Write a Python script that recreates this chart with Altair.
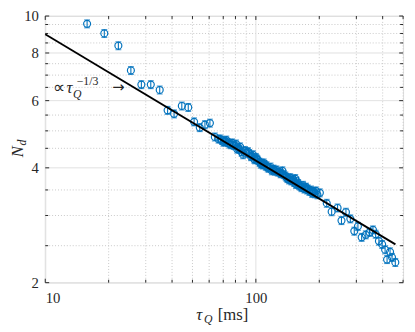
import altair as alt
import pandas as pd

# ---- data ----
tau_ms = [15.8, 19.07, 22.24, 25.5, 28.6, 31.7, 34.95, 38.1, 40.9, 44.5, 47.75, 50.9, 54.15, 57.3, 60.5, 63.85, 66.45,
          67.9, 70.1, 72.4, 74.8, 77.2, 79.8, 80.5, 82.4, 84.2, 87.0, 88.9, 91.8, 93.0, 94.8, 96.8, 98.0, 100, 102.2,
          105.5, 107.8, 109.0, 111.4, 113.8, 117.5, 119.0, 121.4, 125.3, 129.4, 131.0, 133.7, 138.1, 141.1, 145.7,
          147.0, 150.5, 153.8, 156.0, 158.8, 162.3, 167.6, 170.0, 173.1, 176.9, 182.7, 185.0, 188.7, 192.8,
          69.0, 71.5, 73.5, 76.0, 78.5, 81.5, 83.5, 85.5, 90.0, 95.5, 99.0, 101.0, 104.0, 106.5, 110.0, 112.5,
          115.5, 120.0, 123.0, 127.0, 132.0, 135.5, 139.5, 143.5, 149.0, 152.0, 155.0, 160.0, 164.5, 171.5,
          175.0, 179.5, 186.0, 190.5, 196.0,
          201.3, 217.0, 229.0, 244.3, 255.0, 267.7, 280.9, 293.3, 305.2, 317.9, 332.6, 346.5, 359.8, 370.4, 383.8,
          397.7, 410.8, 433.6, 419.7, 443.0, 459.3]
n_d = [9.54, 9.00, 8.36, 7.20, 6.61, 6.61, 6.40, 5.66, 5.54, 5.81, 5.76, 5.28, 5.10, 5.19, 5.24, 4.82, 4.76,
       4.76, 4.67, 4.73, 4.62, 4.65, 4.57, 4.62, 4.51, 4.54, 4.33, 4.44, 4.41, 4.36, 4.28, 4.33, 4.22, 4.26, 4.19,
       4.09, 4.07, 4.12, 4.04, 4.00, 4.02, 3.93, 3.97, 3.95, 3.90, 3.86, 3.93, 3.81, 3.75, 3.77,
       3.70, 3.73, 3.75, 3.69, 3.64, 3.58, 3.60, 3.52, 3.56, 3.52, 3.50, 3.43, 3.46, 3.48,
       4.72, 4.70, 4.66, 4.60, 4.58, 4.48, 4.47, 4.40, 4.38, 4.30, 4.20, 4.22, 4.14, 4.12, 4.08, 4.05,
       3.99, 3.96, 3.92, 3.90, 3.87, 3.84, 3.78, 3.72, 3.70, 3.66, 3.62, 3.60, 3.55, 3.55,
       3.50, 3.47, 3.47, 3.42, 3.40,
       3.44, 3.23, 3.07, 3.14, 2.91, 3.06, 2.94, 2.73, 2.81, 2.63, 2.67, 2.71, 2.75, 2.68, 2.57,
       2.52, 2.44, 2.41, 2.30, 2.33, 2.26]
REL_ERR = 0.024  # relative error bar half-height

fit_tau = [10, 460]
fit_nd = [8.96, 2.52]

x_major = [10, 100]
x_minor = [20, 30, 40, 50, 60, 70, 80, 90, 200, 300, 400, 500]
y_major = [2, 4, 6, 8, 10]
y_minor = [2.5, 3, 3.5, 4.5, 5, 5.5, 6.5, 7, 7.5, 8.5, 9, 9.5]

W, H = 365, 272
BLUE = "#0072BD"
INK = "#262626"
SERIF = "Liberation Serif"

pts = pd.DataFrame({"tau": tau_ms, "nd": n_d})
pts["lo"] = pts["nd"] * (1 - REL_ERR)
pts["hi"] = pts["nd"] * (1 + REL_ERR)
fit = pd.DataFrame({"tau": fit_tau, "nd": fit_nd})

xs = alt.Scale(type="log", domain=[10, 500], nice=False)
ys = alt.Scale(type="log", domain=[2, 10], nice=False)
x_axis = alt.Axis(values=x_major, format="d", domain=False, ticks=False, grid=False,
                  labelFont=SERIF, labelFontSize=15, labelColor=INK, labelPadding=8, title=None)
y_axis = alt.Axis(values=y_major, format="d", domain=False, ticks=False, grid=False,
                  labelFont=SERIF, labelFontSize=15, labelColor=INK, labelPadding=7, title=None)


def X(f):
    return alt.X(f, type="quantitative", scale=xs, axis=x_axis)


def Y(f):
    return alt.Y(f, type="quantitative", scale=ys, axis=y_axis)


def vals(v):
    return pd.DataFrame({"v": v})


layers = []
# grid
layers.append(alt.Chart(vals(x_minor)).mark_rule(color="#c8c8c8", strokeWidth=1, strokeDash=[1, 2]).encode(x=X("v")))
layers.append(alt.Chart(vals(y_minor)).mark_rule(color="#c8c8c8", strokeWidth=1, strokeDash=[1, 2]).encode(y=Y("v")))
layers.append(alt.Chart(vals(x_major)).mark_rule(color="#e0e0e0", strokeWidth=1).encode(x=X("v")))
layers.append(alt.Chart(vals(y_major)).mark_rule(color="#e0e0e0", strokeWidth=1).encode(y=Y("v")))

# inward ticks
for v, L in ((x_major, 4), (x_minor, 3)):
    layers.append(alt.Chart(vals(v)).mark_rule(color=INK, strokeWidth=1).encode(
        x=X("v"), y=alt.value(H - L), y2=alt.value(H)))
    layers.append(alt.Chart(vals(v)).mark_rule(color=INK, strokeWidth=1).encode(
        x=X("v"), y=alt.value(0), y2=alt.value(L)))
for v, L in ((y_major, 4), (y_minor, 3)):
    layers.append(alt.Chart(vals(v)).mark_rule(color=INK, strokeWidth=1).encode(
        y=Y("v"), x=alt.value(0), x2=alt.value(L)))
    layers.append(alt.Chart(vals(v)).mark_rule(color=INK, strokeWidth=1).encode(
        y=Y("v"), x=alt.value(W - L), x2=alt.value(W)))

# error bars + markers
base = alt.Chart(pts)
layers.append(base.mark_rule(color=BLUE, strokeWidth=1.1).encode(x=X("tau"), y=Y("lo"), y2="hi"))
layers.append(base.mark_tick(color=BLUE, orient="horizontal", size=6, thickness=1.1).encode(x=X("tau"), y=Y("lo")))
layers.append(base.mark_tick(color=BLUE, orient="horizontal", size=6, thickness=1.1).encode(x=X("tau"), y=Y("hi")))
layers.append(base.mark_point(shape="circle", filled=False, size=50, color=BLUE, strokeWidth=1.2, opacity=1).encode(
    x=X("tau"), y=Y("nd")))

# fit line
layers.append(alt.Chart(fit).mark_line(color="black", strokeWidth=1.8).encode(x=X("tau"), y=Y("nd")))


# annotation  ∝ τ_Q^{-1/3} →
def dtext(txt, xv, yv, fs, st="normal", font=SERIF):
    return alt.Chart(pd.DataFrame({"x": [xv], "y": [yv], "t": [txt]})).mark_text(
        align="left", baseline="alphabetic", font=font, fontSize=fs, fontStyle=st, color=INK).encode(
        x=X("x"), y=Y("y"), text="t:N")


layers.append(dtext("\u221d", 10.9, 6.30, 17))
layers.append(dtext("\u03c4", 12.6, 6.30, 17, "italic"))
layers.append(dtext("Q", 13.55, 6.10, 12, "italic"))
layers.append(dtext("\u22121/3", 14.1, 6.60, 12))
layers.append(dtext("\u2192", 20.8, 6.33, 15, font="DejaVu Sans"))


# axis titles
def label(txt, x, y, fs, st="normal", angle=0):
    return alt.Chart(pd.DataFrame({"t": [txt]})).mark_text(
        align="left", baseline="alphabetic", font=SERIF, fontSize=fs, fontStyle=st, color=INK, angle=angle
    ).encode(x=alt.value(x), y=alt.value(y), text="t:N")


layers.append(label("\u03c4", 154, 310, 17, "italic"))
layers.append(label("Q", 162, 313, 12, "italic"))
layers.append(label("[ms]", 176, 310, 17))
layers.append(label("N", -23, 144, 17, "italic", 270))
layers.append(label("d", -20, 132, 12, "italic", 270))

chart = alt.layer(*layers).properties(
    width=W, height=H, autosize="none",
    padding={"left": 38, "top": 5, "right": 4, "bottom": 40},
).configure_view(stroke=INK, strokeWidth=1).configure(background="white")

chart.save("out.html", embed_options={"renderer": "svg", "actions": False})
